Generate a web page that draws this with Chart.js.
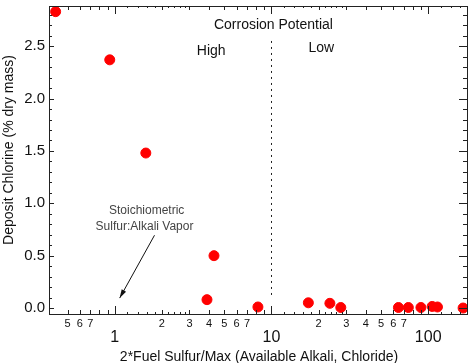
<!DOCTYPE html>
<html>
<head>
<meta charset="utf-8">
<script src="https://cdn.jsdelivr.net/npm/chart.js@4/dist/chart.umd.min.js"></script>
<style>
  body { margin: 0; background: #fff; }
  #wrap { width: 474px; height: 363px; }
</style>
</head>
<body>
<div id="wrap"><canvas id="chlorineChart" width="474" height="363"></canvas></div>
<script>
// ratio values (x) and deposit chlorine (y)
const ratioValues = [0.42, 0.93, 1.58, 4.3, 3.88, 8.2, 17.2, 23.6, 27.7, 64.6, 74.7, 89.9, 106, 114.6, 167];
const chlorineValues = [2.83, 2.37, 1.48, 0.50, 0.08, 0.01, 0.05, 0.045, 0.005, 0.005, 0.005, 0.005, 0.015, 0.01, 0.0];

// axis ticks
const xMajorTicks = [1, 10, 100];
const xLabeledMinorTicks = [0.5, 0.6, 0.7, 2, 3, 4, 5, 6, 7, 20, 30, 40, 50, 60, 70];
const xUnlabeledMinorTicks = [0.8, 0.9, 8, 9, 80, 90];
const xSmallTicks = [1.2, 1.4, 1.6, 1.8, 2.2, 2.4, 2.6, 2.8, 12, 14, 16, 18, 22, 24, 26, 28, 120, 140, 160];
const yMajorTicks = [0.0, 0.5, 1.0, 1.5, 2.0, 2.5];
const yMinorTicks = [0.1, 0.2, 0.3, 0.4, 0.6, 0.7, 0.8, 0.9, 1.1, 1.2, 1.3, 1.4, 1.6, 1.7, 1.8, 1.9, 2.1, 2.2, 2.3, 2.4, 2.6, 2.7, 2.8];

const xTitle = '2*Fuel Sulfur/Max (Available Alkali, Chloride)';
const yTitle = 'Deposit Chlorine (% dry mass)';

const FONT = '"Liberation Sans", Arial, sans-serif';

// decorations: frame, inward ticks, labels, notes
const decorations = {
    id: 'decorations',
    afterDatasetsDraw(chart) {
        const { ctx, chartArea: a, scales: { x, y } } = chart;
        ctx.save();
        ctx.strokeStyle = '#222';
        ctx.lineWidth = 1;

        // frame
        ctx.strokeRect(a.left + 0.5, a.top + 0.5, a.right - a.left - 1, a.bottom - a.top);

        // x ticks (bottom + top, pointing in)
        const xTick = (v, len) => {
            const px = Math.round(x.getPixelForValue(v)) + 0.5;
            ctx.beginPath();
            ctx.moveTo(px, a.bottom); ctx.lineTo(px, a.bottom - len);
            ctx.moveTo(px, a.top); ctx.lineTo(px, a.top + len);
            ctx.stroke();
        };
        xMajorTicks.forEach(v => xTick(v, 8));
        xLabeledMinorTicks.forEach(v => xTick(v, 4));
        xUnlabeledMinorTicks.forEach(v => xTick(v, 4));
        xSmallTicks.forEach(v => xTick(v, 2));

        // y ticks
        const yTick = (v, lenL, lenR) => {
            const py = Math.round(y.getPixelForValue(v)) + 0.5;
            ctx.beginPath();
            ctx.moveTo(a.left, py); ctx.lineTo(a.left + lenL, py);
            ctx.moveTo(a.right, py); ctx.lineTo(a.right - lenR, py);
            ctx.stroke();
        };
        yMajorTicks.forEach(v => yTick(v, 5, 9));
        yMinorTicks.forEach(v => yTick(v, 3, 5));

        // tick labels
        ctx.fillStyle = '#111';
        ctx.textAlign = 'right';
        ctx.textBaseline = 'middle';
        ctx.font = '15px ' + FONT;
        yMajorTicks.forEach(v => ctx.fillText(v.toFixed(1), a.left - 4, y.getPixelForValue(v)));

        ctx.textAlign = 'center';
        ctx.font = '11px ' + FONT;
        xLabeledMinorTicks.forEach(v => {
            const d = v / Math.pow(10, Math.floor(Math.log10(v) + 1e-9));
            ctx.fillText(String(Math.round(d)), x.getPixelForValue(v), a.bottom + 10);
        });
        ctx.font = '16px ' + FONT;
        xMajorTicks.forEach(v => ctx.fillText(String(v), x.getPixelForValue(v), a.bottom + 24));

        // axis titles
        ctx.font = '14px ' + FONT;
        ctx.fillText(xTitle, 259, 357);
        ctx.save();
        ctx.translate(9, 150);
        ctx.rotate(-Math.PI / 2);
        ctx.font = '14px ' + FONT;
        ctx.fillText(yTitle, 0, 0);
        ctx.restore();

        // dashed divider at ratio 10
        const dx = Math.round(x.getPixelForValue(10)) + 0.5;
        ctx.setLineDash([2, 4]);
        ctx.beginPath();
        ctx.moveTo(dx, y.getPixelForValue(2.55));
        ctx.lineTo(dx, y.getPixelForValue(0.12));
        ctx.stroke();
        ctx.setLineDash([]);

        // notes
        ctx.fillStyle = '#111';
        ctx.font = '14px ' + FONT;
        ctx.fillText('Corrosion Potential', x.getPixelForValue(10.3), y.getPixelForValue(2.70));
        ctx.fillText('High', x.getPixelForValue(4.13), y.getPixelForValue(2.45));
        ctx.fillText('Low', x.getPixelForValue(20.8), y.getPixelForValue(2.48));

        ctx.fillStyle = '#444';
        ctx.font = '12px ' + FONT;
        ctx.fillText('Stoichiometric', x.getPixelForValue(1.6), y.getPixelForValue(0.925));
        ctx.fillText('Sulfur:Alkali Vapor', x.getPixelForValue(1.55), y.getPixelForValue(0.772));

        // arrow
        const x0 = x.getPixelForValue(1.795), y0 = y.getPixelForValue(0.695);
        const x1 = x.getPixelForValue(1.076), y1 = y.getPixelForValue(0.095);
        ctx.strokeStyle = '#111';
        ctx.beginPath();
        ctx.moveTo(x0, y0); ctx.lineTo(x1, y1);
        ctx.stroke();
        const ang = Math.atan2(y1 - y0, x1 - x0);
        ctx.fillStyle = '#111';
        ctx.beginPath();
        ctx.moveTo(x1, y1);
        ctx.lineTo(x1 - 9 * Math.cos(ang - 0.28), y1 - 9 * Math.sin(ang - 0.28));
        ctx.lineTo(x1 - 9 * Math.cos(ang + 0.28), y1 - 9 * Math.sin(ang + 0.28));
        ctx.closePath();
        ctx.fill();

        ctx.restore();
    }
};

const ctx = document.getElementById('chlorineChart').getContext('2d');
new Chart(ctx, {
    type: 'scatter',
    data: {
        datasets: [{
            data: ratioValues.map((v, i) => ({ x: v, y: chlorineValues[i] })),
            backgroundColor: '#ff0000',
            borderColor: '#ff0000',
            pointRadius: 5,
            pointHoverRadius: 5
        }]
    },
    options: {
        responsive: false,
        animation: false,
        layout: { padding: { left: 49, right: 4, top: 5, bottom: 49 } },
        scales: {
            x: { type: 'logarithmic', min: 0.381, max: 179.5, display: false },
            y: { type: 'linear', min: -0.057, max: 2.884, display: false }
        },
        plugins: {
            legend: { display: false },
            tooltip: { enabled: false }
        }
    },
    plugins: [decorations]
});
</script>
</body>
</html>
